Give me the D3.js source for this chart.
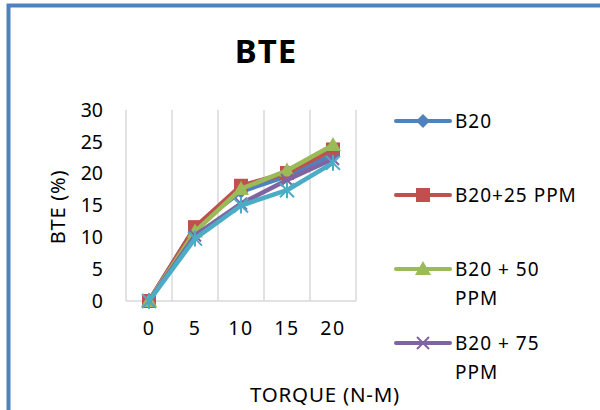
<!DOCTYPE html>
<html lang="en">
<head>
    <meta charset="UTF-8">
    <title>BTE</title>
    <script src="https://cdn.jsdelivr.net/npm/d3@7"></script>
    <style>
        body{ margin:0; background:#fff; }
        text{ font-family:"Noto Sans","Open Sans",sans-serif; fill:#000; }
    </style>
</head>
<body>
<svg width="600" height="410"></svg>
<script>
    var torque = ["0", "5", "10", "15", "20"];
    var seriesNames = ["B20", "B20+25 PPM", "B20 + 50 PPM", "B20 + 75 PPM", "B20 + 100 PPM"];
    var b20 = [0, 11.6, 17.2, 19.6, 23.0];
    var b20_25 = [0, 11.6, 18.1, 20.1, 23.8];
    var b20_50 = [0, 10.9, 17.6, 20.5, 24.5];
    var b20_75 = [0, 10.3, 15.3, 19.0, 22.3];
    var b20_100 = [0, 9.8, 15.0, 17.4, 21.7];
    var yTicks = [0, 5, 10, 15, 20, 25, 30];

    var colors = ["#4f81bd", "#c0504d", "#9bbb59", "#8064a2", "#4bacc6"];
    var shapes = ["diamond", "square", "triangle", "x", "star"];
    var allSeries = [b20, b20_25, b20_50, b20_75, b20_100];

    var svg = d3.select("svg");

    // frame
    svg.append("rect")
        .attr("x", 8.5).attr("y", 5.5)
        .attr("width", 620).attr("height", 430)
        .attr("fill", "none")
        .attr("stroke", "#4f81bd")
        .attr("stroke-width", 4);

    svg.append("text")
        .attr("x", 266).attr("y", 63)
        .attr("text-anchor", "middle")
        .style("font-size", "33px")
        .style("font-weight", "bold")
        .style("letter-spacing", "1px")
        .text("BTE");

    var x = d3.scaleBand().domain(torque).range([126, 356]);
    var y = d3.scaleLinear().domain([0, 30]).range([301, 110]);

    // vertical gridlines at category boundaries
    var bounds = torque.map(function (d) { return x(d); }).concat([x.range()[1]]);
    svg.append("g").selectAll("line")
        .data(bounds)
        .enter().append("line")
        .attr("x1", function (d) { return d; })
        .attr("x2", function (d) { return d; })
        .attr("y1", y(30)).attr("y2", y(0))
        .attr("stroke", "#d9d9d9")
        .attr("stroke-width", 1.5);

    svg.append("line")
        .attr("x1", 126).attr("x2", 356)
        .attr("y1", y(0)).attr("y2", y(0))
        .attr("stroke", "#d9d9d9")
        .attr("stroke-width", 1.5);

    // y tick labels
    svg.append("g").selectAll("text")
        .data(yTicks)
        .enter().append("text")
        .attr("x", 103)
        .attr("y", function (d) { return y(d); })
        .attr("dy", "0.35em")
        .attr("text-anchor", "end")
        .style("font-size", "19.5px")
        .text(function (d) { return d; });

    // x tick labels
    svg.append("g").selectAll("text")
        .data(torque)
        .enter().append("text")
        .attr("x", function (d) { return x(d) + x.bandwidth() / 2; })
        .attr("y", 328)
        .attr("dy", "0.35em")
        .attr("text-anchor", "middle")
        .style("font-size", "19.5px")
        .style("letter-spacing", "1.5px")
        .text(function (d) { return d; });

    svg.append("text")
        .attr("transform", "translate(58,207) rotate(-90)")
        .attr("dy", "0.35em")
        .attr("text-anchor", "middle")
        .style("font-size", "20px")
        .style("letter-spacing", "0.8px")
        .text("BTE (%)");

    svg.append("text")
        .attr("x", 325).attr("y", 395)
        .attr("dy", "0.35em")
        .attr("text-anchor", "middle")
        .style("font-size", "20.5px")
        .style("letter-spacing", "0.8px")
        .text("TORQUE (N-M)");

    function drawMarker(g, shape, color, cx, cy) {
        if (shape == "diamond") {
            g.append("path")
                .attr("d", "M" + cx + "," + (cy - 7) + "L" + (cx + 7) + "," + cy + "L" + cx + "," + (cy + 7) + "L" + (cx - 7) + "," + cy + "Z")
                .attr("fill", color);
        } else if (shape == "square") {
            g.append("rect")
                .attr("x", cx - 7).attr("y", cy - 7)
                .attr("width", 14).attr("height", 14)
                .attr("fill", color);
        } else if (shape == "triangle") {
            g.append("path")
                .attr("d", "M" + cx + "," + (cy - 8) + "L" + (cx + 8) + "," + (cy + 6) + "L" + (cx - 8) + "," + (cy + 6) + "Z")
                .attr("fill", color);
        } else if (shape == "x") {
            g.append("path")
                .attr("d", "M" + (cx - 6) + "," + (cy - 6) + "L" + (cx + 6) + "," + (cy + 6) + "M" + (cx + 6) + "," + (cy - 6) + "L" + (cx - 6) + "," + (cy + 6))
                .attr("stroke", color).attr("stroke-width", 2);
        } else {
            g.append("path")
                .attr("d", "M" + (cx - 7) + "," + (cy - 7) + "L" + (cx + 7) + "," + (cy + 7) + "M" + (cx + 7) + "," + (cy - 7) + "L" + (cx - 7) + "," + (cy + 7) + "M" + cx + "," + (cy - 8) + "L" + cx + "," + (cy + 8))
                .attr("stroke", color).attr("stroke-width", 2);
        }
    }

    var line = d3.line()
        .x(function (d, i) { return x(torque[i]) + x.bandwidth() / 2; })
        .y(function (d) { return y(d); });

    allSeries.forEach(function (vals, s) {
        var g = svg.append("g");
        g.append("path")
            .datum(vals)
            .attr("d", line)
            .attr("fill", "none")
            .attr("stroke", colors[s])
            .attr("stroke-width", 4.5)
            .attr("stroke-linejoin", "round");
        vals.forEach(function (v, i) {
            drawMarker(g, shapes[s], colors[s], x(torque[i]) + x.bandwidth() / 2, y(v));
        });
    });

    // legend (the last entry falls below the visible frame, as in the original)
    var legend = svg.append("g");
    seriesNames.forEach(function (name, s) {
        var ly = 121 + s * 74;
        if (ly > 400) return;
        legend.append("line")
            .attr("x1", 396).attr("x2", 450)
            .attr("y1", ly).attr("y2", ly)
            .attr("stroke", colors[s])
            .attr("stroke-width", 4)
            .attr("stroke-linecap", "round");
        drawMarker(legend, shapes[s], colors[s], 423, ly);
        var words = name.split(" ");
        var lines = [name];
        if (name.length > 11) {
            lines = [words.slice(0, words.length - 1).join(" "), words[words.length - 1]];
        }
        lines.forEach(function (t, k) {
            legend.append("text")
                .attr("x", 455)
                .attr("y", ly + k * 29.5)
                .attr("dy", "0.35em")
                .style("font-size", "19px")
                .style("letter-spacing", "1px")
                .text(t);
        });
    });
</script>
</body>
</html>
